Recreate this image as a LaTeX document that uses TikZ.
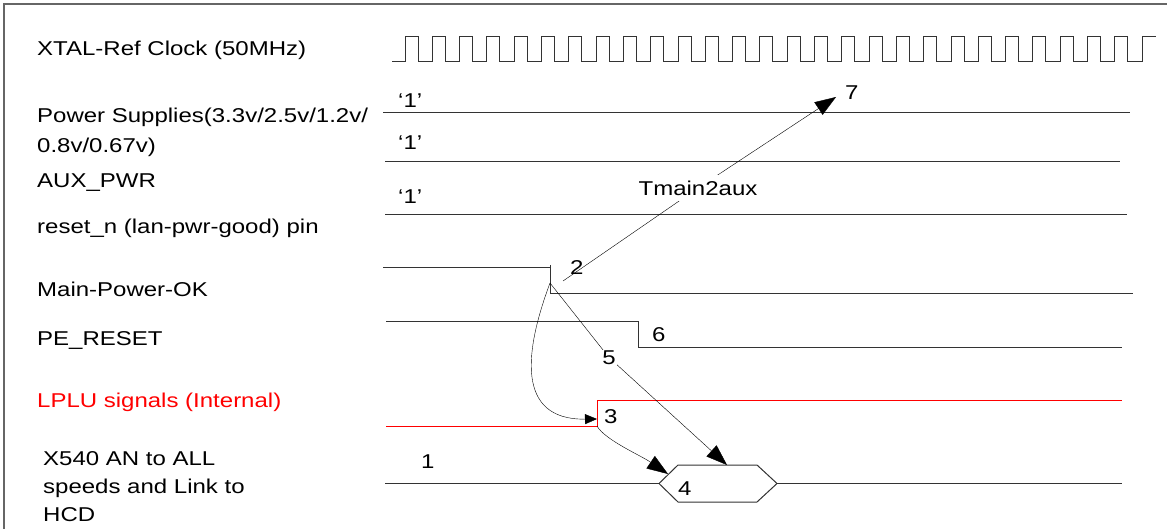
\documentclass[tikz,border=0pt]{standalone}
\usepackage{fontspec}
\setmainfont{Liberation Sans}[FakeStretch=1.2]
\usetikzlibrary{arrows.meta}
\usetikzlibrary{positioning}
\tikzstyle{lbl}=[anchor=base west,inner sep=0pt,font=\fontsize{20}{28}\selectfont,align=left]
\tikzstyle{num}=[anchor=base west,inner sep=0pt,font=\fontsize{20}{24}\selectfont]
\tikzstyle{wave}=[black!80,line width=1pt]

\begin{document}
\begin{tikzpicture}[x=1pt,y=-1pt,
  big/.tip={Triangle[length=21pt,width=15pt]},
  small/.tip={Triangle[length=12pt,width=10pt]}]
\useasboundingbox (0,0) rectangle (1167,529);
\draw[black!60,line width=1.2pt] (1167,4) -- (4,4) -- (4,529);
% signal names (multi-line ones sit on their last baseline)
\node [lbl] (clk) at (37,56) {XTAL-Ref Clock (50MHz)};
\node [lbl,font=\fontsize{20}{30}\selectfont] (pwr) at (37,153) {Power Supplies(3.3v/2.5v/1.2v/\\0.8v/0.67v)};
\node [lbl] (aux) at (37,188) {AUX\_PWR};
\node [lbl] (rst) at (37,234) {reset\_n (lan-pwr-good) pin};
\node [lbl] (mpo) at (37,297) {Main-Power-OK};
\node [lbl] (pe) at (37,345) {PE\_RESET};
\node [lbl,text=red] (lplu) at (37,407) {LPLU signals (Internal)};
\node [lbl] (an) at (43,521) {X540 AN to ALL\\speeds and Link to\\HCD};
% clock
\draw[wave] (392,62) -- (405,62);
\foreach \k in {0,...,26}
  \draw[wave] ({405+27.3*\k},62) |- ({418+27.3*\k},37) |- ({432.3+27.3*\k},62);
\draw[wave] (1142,62) |- (1156,37);
% static levels
\node [num] (one1) at (398,108) {‘1’};
\node [num] (one2) at (398,150) {‘1’};
\node [num] (one3) at (398,204) {‘1’};
\draw[wave] (383,113) -- (1130,113);
\draw[wave] (385,162) -- (1120,162);
\draw[wave] (385,215) -- (1127,215);
% main power ok
\coordinate (mpok) at (550,283);
\draw[wave] (383,268) -- (550,268);
\draw[wave] (550,265) -- (550,294) -- (1133,294);
% pe reset
\draw[wave] (386,321) -- (638,321) -- (638,347) -- (1122,347);
% lplu
\coordinate (lpluup) at (597,419);
\coordinate (lpluft) at (597,426);
\draw[red,line width=1pt] (386,426) -- (597,426) -- (597,400) -- (1122,400);
% link
\coordinate (hexL) at (659,483.5);
\coordinate (hexR) at (777,483.5);
\coordinate (hexT) at (727,465);
\coordinate (hexUL) at (668,474);
\draw[wave] (385,483.5) -- (hexL);
\draw[wave] (hexR) -- (1122,483.5);
\draw[wave] (hexL) -- (678,465) -- (757,465) -- (hexR) -- (757,502) -- (678,502) -- cycle;
% arrows
\coordinate (tail2) at (563,281);
\coordinate (tmc) at (698,188);
\coordinate (tip7) at (836,97);
\coordinate (c5) at (609,357.5);
\draw[-{big}] (tail2) -- (tmc) -- (tip7);
\node [font=\fontsize{20}{24}\selectfont,fill=white,inner xsep=2pt,inner ysep=6pt] (tm) at (tmc) {Tmain2aux};
\draw[-{small}] (mpok) .. controls (525,350) and (515,420) .. (lpluup);
\draw[-{big}] (mpok) -- (c5) -- (hexT);
\node [font=\fontsize{20}{24}\selectfont,fill=white,inner sep=1pt] (n5) at (c5) {5};
\draw[-{big}] (lpluft) .. controls (605,440) and (640,455) .. (hexUL);
% step numbers
\node [num] (n1) at (421,468) {1};
\node [num] (n2) at (570,275) {2};
\node [num] (n3) at (604,423) {3};
\node [num] (n4) at (678,495) {4};
\node [num] (n6) at (652,341) {6};
\node [num] (n7) at (845,100) {7};
\end{tikzpicture}
\end{document}
